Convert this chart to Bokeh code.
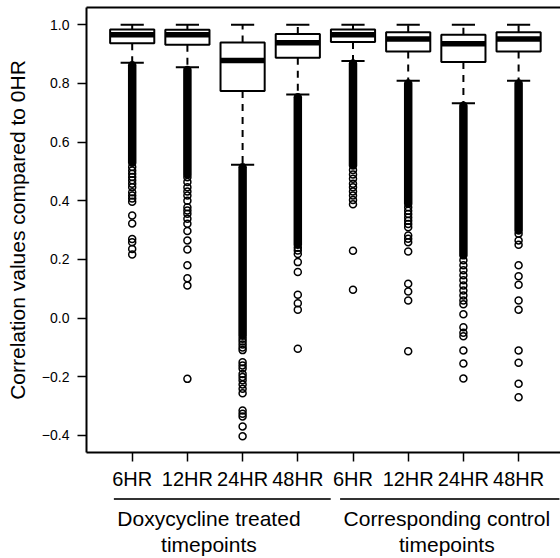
import numpy as np
from bokeh.plotting import figure
from bokeh.models import (Range1d, FixedTicker, ColumnDataSource, LinearAxis,
                          CustomJSTickFormatter)
from bokeh.layouts import column
from bokeh.embed import file_html
from bokeh.resources import INLINE
from bokeh.core.properties import value

# ---------------- data ----------------
timepoints = ["6HR", "12HR", "24HR", "48HR", "6HR", "12HR", "24HR", "48HR"]
group_labels = ["Doxycycline treated\ntimepoints", "Corresponding control\ntimepoints"]

upper_whisker = [1.000, 1.000, 1.000, 1.000, 1.000, 1.000, 1.000, 1.000]
q3 = [0.984, 0.983, 0.940, 0.969, 0.984, 0.975, 0.966, 0.975]
median = [0.966, 0.966, 0.878, 0.939, 0.966, 0.952, 0.935, 0.952]
q1 = [0.937, 0.932, 0.774, 0.888, 0.941, 0.909, 0.873, 0.909]
lower_whisker = [0.871, 0.855, 0.523, 0.762, 0.877, 0.809, 0.733, 0.809]

# range over which the outliers are so dense that they form a solid column
dense_top = [0.862, 0.846, 0.514, 0.753, 0.868, 0.800, 0.724, 0.800]
dense_bottom = [0.530, 0.490, -0.060, 0.250, 0.520, 0.390, 0.214, 0.299]

outliers_1 = [0.515, 0.503, 0.492, 0.481, 0.470, 0.458, 0.446, 0.429, 0.418,
              0.408, 0.397, 0.350, 0.323, 0.270, 0.259, 0.236, 0.217]
outliers_2 = [0.480, 0.464, 0.446, 0.432, 0.418, 0.400, 0.378, 0.367, 0.356,
              0.339, 0.322, 0.297, 0.265, 0.234, 0.180, 0.136, 0.111, -0.207]
outliers_3 = [-0.070, -0.080, -0.090, -0.100, -0.109, -0.150, -0.161, -0.172,
              -0.190, -0.201, -0.212, -0.226, -0.241, -0.256, -0.315, -0.326,
              -0.335, -0.369, -0.403]
outliers_4 = [0.240, 0.231, 0.219, 0.191, 0.157, 0.080, 0.051, 0.029, -0.104]
outliers_5 = [0.505, 0.490, 0.475, 0.458, 0.446, 0.432, 0.418, 0.403, 0.388,
              0.230, 0.097]
outliers_6 = [0.378, 0.366, 0.355, 0.343, 0.332, 0.321, 0.310, 0.282, 0.271,
              0.259, 0.227, 0.117, 0.091, 0.060, -0.113]
outliers_7 = [0.197, 0.180, 0.163, 0.146, 0.129, 0.111, 0.094, 0.077, 0.060,
              0.047, 0.013, -0.031, -0.050, -0.062, -0.110, -0.155, -0.206]
outliers_8 = [0.288, 0.265, 0.250, 0.180, 0.143, 0.114, 0.060, 0.029, -0.110,
              -0.152, -0.224, -0.270]
outliers = [outliers_1, outliers_2, outliers_3, outliers_4,
            outliers_5, outliers_6, outliers_7, outliers_8]

y_ticks = [-0.4, -0.2, 0.0, 0.2, 0.4, 0.6, 0.8, 1.0]

# ---------------- layout / style ----------------
FONT = "Liberation Sans"
BOX_W = 0.8
CAP_W = 0.42
pos = np.arange(1, len(timepoints) + 1)

box_src = ColumnDataSource(dict(
    x=pos, left=pos - BOX_W / 2, right=pos + BOX_W / 2,
    cl=pos - CAP_W / 2, cr=pos + CAP_W / 2,
    up=upper_whisker, q3=q3, med=median, q1=q1, lo=lower_whisker,
    dtop=dense_top, dbot=dense_bottom,
))

ox, oy = [], []
for i, vals in enumerate(outliers):
    ox += [pos[i]] * len(vals)
    oy += list(vals)
out_src = ColumnDataSource(dict(x=ox, y=oy))

W = 560
LEFT = 86
p = figure(width=W, height=492, x_range=Range1d(0.172, 8.759),
           y_range=Range1d(-0.458, 1.059),
           min_border_left=LEFT, min_border_right=0, min_border_top=7,
           min_border_bottom=40, toolbar_location=None, output_backend="svg")
p.xgrid.visible = False
p.ygrid.visible = False
p.outline_line_color = None
p.background_fill_color = "white"
p.border_fill_color = "white"

# whiskers
p.segment(x0="x", x1="x", y0="q3", y1="up", source=box_src, line_color="black",
          line_width=2, line_dash="7 6")
p.segment(x0="x", x1="x", y0="q1", y1="lo", source=box_src, line_color="black",
          line_width=2, line_dash="7 6")
# boxes
p.quad(left="left", right="right", bottom="q1", top="q3", source=box_src,
       fill_color="white", line_color="black", line_width=2)
p.segment(x0="left", x1="right", y0="med", y1="med", source=box_src,
          line_color="black", line_width=5.5, line_cap="butt")
# dense outliers + single outliers
p.segment(x0="x", x1="x", y0="dtop", y1="dbot", source=box_src,
          line_color="black", line_width=8.5, line_cap="round")
p.scatter(x="x", y="y", source=out_src, marker="circle", size=7,
          fill_color=None, line_color="black", line_width=1.5)
# caps
p.segment(x0="cl", x1="cr", y0="up", y1="up", source=box_src,
          line_color="black", line_width=2)
p.segment(x0="cl", x1="cr", y0="lo", y1="lo", source=box_src,
          line_color="black", line_width=2)

# axes
for ax in (p.xaxis[0], p.yaxis[0]):
    ax.axis_line_color = "black"
    ax.axis_line_width = 2
    ax.major_tick_out = 9
    ax.major_tick_in = 0
    ax.major_tick_line_width = 1.5
    ax.major_tick_line_color = "black"
    ax.minor_tick_line_color = None
    ax.major_label_text_font = FONT
    ax.major_label_text_color = "black"

p.xaxis.ticker = FixedTicker(ticks=[int(v) for v in pos])
p.xaxis.major_label_overrides = {int(v): t for v, t in zip(pos, timepoints)}
p.xaxis.major_label_text_font_size = "20px"
p.xaxis.major_label_standoff = 6

p.yaxis.ticker = FixedTicker(ticks=y_ticks)
p.yaxis.formatter = CustomJSTickFormatter(
    code="return (tick < -1e-9 ? '\\u2212' : '') + Math.abs(tick).toFixed(1);")
p.yaxis.major_label_text_font_size = "14px"
p.yaxis.major_label_standoff = 8
p.yaxis.major_label_orientation = "horizontal"
p.yaxis.axis_label = "Correlation values compared to 0HR"
p.yaxis.axis_label_text_font = FONT
p.yaxis.axis_label_text_font_size = "21px"
p.yaxis.axis_label_text_font_style = "normal"
p.yaxis.axis_label_text_color = "black"
p.yaxis.axis_label_standoff = 10

# top edge of the (right-cropped) plot box
top = LinearAxis(ticker=FixedTicker(ticks=[]), major_tick_out=0, major_tick_in=0,
                 minor_tick_out=0, minor_tick_in=0, major_label_standoff=0,
                 major_label_text_font_size="0px", axis_line_color="black",
                 axis_line_width=2)
p.add_layout(top, "above")

# group annotation strip under the axis
H2 = 66
g = figure(width=W, height=H2, x_range=p.x_range, y_range=Range1d(0, H2),
           min_border_left=LEFT, min_border_right=0, min_border_top=0,
           min_border_bottom=0, toolbar_location=None, output_backend="svg",
           x_axis_type=None, y_axis_type=None)
g.xgrid.visible = False
g.ygrid.visible = False
g.outline_line_color = None
g.background_fill_color = "white"
g.border_fill_color = "white"

grp_src = ColumnDataSource(dict(
    x0=[0.668, 4.766], x1=[4.596, 8.74], xc=[2.39, 6.70],
    yl=[59.5, 59.5], yt=[27.0, 27.0], text=group_labels,
))
g.segment(x0="x0", x1="x1", y0="yl", y1="yl", source=grp_src,
          line_color="#333333", line_width=2)
g.text(x="xc", y="yt", text="text", source=grp_src, text_align="center",
       text_baseline="middle", text_font=value(FONT), text_font_size="21px",
       text_color="black", text_line_height=1.17)

layout = column(p, g, spacing=0)
open("out.html", "w").write(file_html(layout, INLINE))
